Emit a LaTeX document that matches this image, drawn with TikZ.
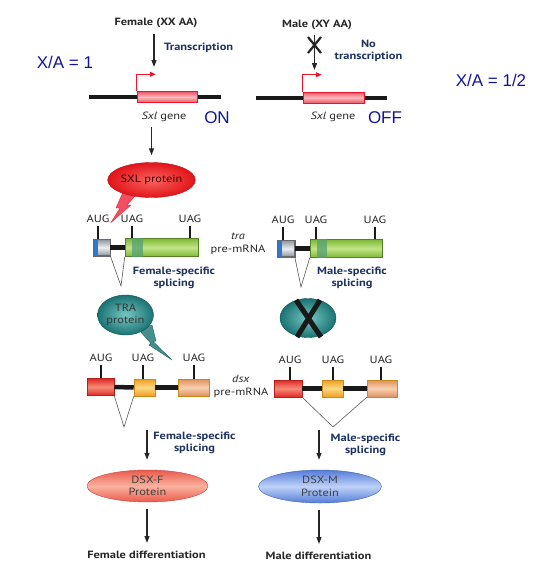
\documentclass[tikz,border=0pt]{standalone}
\usepackage{fontspec}
\setmainfont{PT Sans}[FakeStretch=1.18]
\newfontfamily\arialf{Liberation Sans}
\usetikzlibrary{shapes.geometric,arrows.meta}

\definecolor{navy}{RGB}{30,50,95}
\definecolor{xablue}{RGB}{20,20,150}
\definecolor{promred}{RGB}{235,20,45}
\definecolor{pinkA}{RGB}{238,85,100}
\definecolor{pinkB}{RGB}{250,185,190}
\definecolor{sxlred}{RGB}{225,20,25}
\definecolor{sxlhi}{RGB}{250,100,95}
\definecolor{exblue}{RGB}{50,120,200}
\definecolor{exgrey}{RGB}{145,150,158}
\definecolor{exgreyhi}{RGB}{238,238,240}
\definecolor{grn}{RGB}{125,185,55}
\definecolor{grnhi}{RGB}{195,228,135}
\definecolor{grnband}{RGB}{85,160,115}
\definecolor{teal1}{RGB}{25,115,115}
\definecolor{tealhi}{RGB}{120,200,195}
\definecolor{redA}{RGB}{225,40,35}
\definecolor{redhi}{RGB}{247,140,120}
\definecolor{orA}{RGB}{240,160,30}
\definecolor{orhi}{RGB}{252,215,130}
\definecolor{tanA}{RGB}{222,145,95}
\definecolor{tanhi}{RGB}{247,208,175}
\definecolor{salA}{RGB}{235,90,75}
\definecolor{salhi}{RGB}{250,178,160}
\definecolor{bluA}{RGB}{85,125,215}
\definecolor{bluhi}{RGB}{190,210,248}

\begin{document}
\begin{tikzpicture}[x=1pt,y=-1pt,
  lbl/.style={font=\fontsize{10.5}{13}\selectfont, inner sep=0pt, align=center, text=black!85},
  hdr/.style={font=\fontsize{10.5}{12}\selectfont\bfseries, inner sep=0pt, text=black!85},
  blbl/.style={font=\fontsize{10.5}{11.8}\selectfont\bfseries, text=navy, align=center, inner sep=0pt},
  xa/.style={font=\arialf\fontsize{17}{20}\selectfont, text=xablue, inner sep=0pt},
  arr/.style={-{Triangle[length=7pt,width=5pt]}, line width=1.2pt, black!85},
  prom/.style={-{Triangle[length=6pt,width=5pt]}, line width=1.2pt, promred},
  dna/.style={line width=4.5pt, black!90},
  tickl/.style={line width=2.6pt, black!90},
  vline/.style={line width=0.6pt, black!65},
  exon/.style={rectangle, inner sep=0pt, draw, line width=0.5pt},
  pinkbox/.style={exon, draw=promred, top color=pinkA, bottom color=pinkA, middle color=pinkB, minimum width=60pt, minimum height=11pt},
  greyex/.style={exon, draw=exgrey!70!black, top color=exgrey, bottom color=exgrey, middle color=exgreyhi, minimum width=17pt, minimum height=16pt},
  greenex/.style={exon, draw=grn!70!black, top color=grn, bottom color=grn, middle color=grnhi, minimum height=18pt},
  redex/.style={exon, draw=redA!80!black, top color=redA, bottom color=redA, middle color=redhi, minimum height=17pt},
  orex/.style={exon, draw=orA!85!black, top color=orA, bottom color=orA, middle color=orhi, minimum height=17pt},
  tanex/.style={exon, draw=orA!85!black, top color=tanA, bottom color=tanA, middle color=tanhi, minimum height=17pt},
  ell/.style={ellipse, inner sep=0pt, align=center, font=\fontsize{10.5}{12.5}\selectfont},
]
\useasboundingbox (0,0) rectangle (538,565);

% ---------------- Sxl, female ----------------
\node[hdr] (fem) at (156,23) {Female (XX AA)};
\coordinate (fTip) at (154,67);
\draw[arr, shorten <=6pt] (fem.south -| fTip) -- (fTip);
\node[blbl, anchor=west] (trn) at (164,48) {Transcription};
\node[xa] (xa1) at (65,62) {X/A = 1};
\coordinate (dF1) at (89,97);
\coordinate (dF2) at (221,97);
\draw[dna] (dF1) -- (dF2);
\node[pinkbox] (sxlF) at (167,97) {};
\draw[prom] (sxlF.north west) -- ++(0,-17) -- ++(19,0);
\node[lbl] (sxlFl) at (164,117) {\textit{Sxl} gene};
\node[xa] (on) at (217,118) {ON};

% ---------------- Sxl, male ----------------
\node[hdr] (mal) at (317,25) {Male (XY AA)};
\coordinate (mTip) at (314.5,70);
\draw[arr, shorten <=5pt] (mal.south -| mTip) -- (mTip);
\coordinate (mX) at (314.5,45);
\draw[line width=2.2pt, black!85] ([shift={(-6.5,-8)}]mX) -- ([shift={(6.5,8)}]mX)
  ([shift={(6.5,-8)}]mX) -- ([shift={(-6.5,8)}]mX);
\node[blbl] (notr) at (368.5,51) {No\\transcription};
\node[xa] (xa2) at (491,80) {X/A = 1/2};
\coordinate (dM1) at (256,98);
\coordinate (dM2) at (387,98);
\draw[dna] (dM1) -- (dM2);
\node[pinkbox, minimum width=61pt] (sxlM) at (333.5,97.5) {};
\draw[prom] (sxlM.north west) -- ++(0,-17) -- ++(19,0);
\node[lbl] (sxlMl) at (333,117) {\textit{Sxl} gene};
\node[xa] (off) at (385,118) {OFF};

% ---------------- SXL protein ----------------
\fill[promred!75!white, draw=promred, line width=0.3pt]
  (123,192) -- (136,195) -- (127,205) -- (131,205) -- (111,222.5) -- (120,208) -- (116,208) -- cycle;
\node[ell, minimum width=74pt, minimum height=35pt, draw=sxlred!80!black, line width=0.4pt,
      inner color=sxlhi, outer color=sxlred, text=black!75!red] (sxl) at (151.5,180) {SXL protein};
\draw[arr, shorten <=5pt, shorten >=7pt] (sxlFl.south -| sxl.north) -- (sxl.north);

% ---------------- tra, female ----------------
\node[greyex] (tF1) at (101.5,247.5) {};
\fill[exblue] (tF1.north west) rectangle ([xshift=5pt]tF1.south west);
\draw[exgrey!70!black, line width=0.5pt] (tF1.north west) rectangle (tF1.south east);
\node[greenex, minimum width=73pt] (tF2) at (161.5,247.5) {};
\fill[grnband, opacity=0.75] ([xshift=7pt]tF2.north west) rectangle ([xshift=18pt]tF2.south west);
\draw[dna] (tF1.east) -- (tF2.west);
\node[lbl] (tFa) at (98,219) {AUG};
\node[lbl] (tFb) at (132,219) {UAG};
\node[lbl] (tFc) at (190,219) {UAG};
\draw[tickl] ([yshift=-3pt]tFa.south) -- (tFa.south |- tF1.north);
\draw[tickl] ([yshift=-3pt]tFb.south) -- (tFb.south |- tF2.north);
\draw[tickl] ([yshift=-3pt]tFc.south) -- (tFc.south |- tF2.north);
\coordinate (vF1) at (121,286);
\draw[vline] (tF1.south east) -- (vF1) -- (tF2.south west);
\node[lbl] (traL) at (238,243.5) {\textit{tra}\\pre-mRNA};
\node[blbl] (fs1) at (174,278) {Female-specific\\splicing};

% ---------------- tra, male ----------------
\node[greyex] (tM1) at (286,248.5) {};
\fill[exblue] (tM1.north west) rectangle ([xshift=5pt]tM1.south west);
\draw[exgrey!70!black, line width=0.5pt] (tM1.north west) rectangle (tM1.south east);
\node[greenex, minimum width=72pt] (tM2) at (346,248.5) {};
\fill[grnband, opacity=0.75] ([xshift=7pt]tM2.north west) rectangle ([xshift=17pt]tM2.south west);
\draw[dna] (tM1.east) -- (tM2.west);
\node[lbl] (tMa) at (283,220) {AUG};
\node[lbl] (tMb) at (316,220) {UAG};
\node[lbl] (tMc) at (375,220) {UAG};
\draw[tickl] ([yshift=-3pt]tMa.south) -- (tMa.south |- tM1.north);
\draw[tickl] ([yshift=-3pt]tMb.south) -- (tMb.south |- tM2.north);
\draw[tickl] ([yshift=-3pt]tMc.south) -- (tMc.south |- tM2.north);
\coordinate (vM1) at (301,287);
\draw[vline] (tM1.south east) -- (vM1) -- (tM2.south west);
\node[blbl] (ms1) at (352,278) {Male-specific\\splicing};

% ---------------- TRA protein ----------------
\fill[teal1!80!white, draw=teal1!70!black, line width=0.3pt]
  (139,330) -- (152,325) -- (156,341) -- (153,341.5) -- (172,360) -- (149,345) -- (151,343.5) -- cycle;
\node[ell, minimum width=56pt, minimum height=40pt, draw=teal1!70!black, line width=0.4pt,
      inner color=tealhi, outer color=teal1, text=black!80] (tra) at (125.5,315) {TRA\\protein};
\node[ell, minimum width=56pt, minimum height=39pt, draw=teal1!70!black, line width=0.4pt,
      inner color=tealhi, outer color=teal1] (traX) at (308,318) {};
\draw[line width=5pt, black!90] ([shift={(-12,-18)}]traX.center) -- ([shift={(13,19)}]traX.center)
  ([shift={(12,-18)}]traX.center) -- ([shift={(-11,19)}]traX.center);

% ---------------- dsx, female ----------------
\node[redex, minimum width=27pt] (dF1x) at (100.5,387) {};
\node[orex, minimum width=21pt] (dF2x) at (144.5,387.5) {};
\node[tanex, minimum width=31pt] (dF3x) at (193.5,387.5) {};
\draw[dna] (dF1x.east) -- (dF2x.west);
\draw[dna] (dF2x.east) -- (dF3x.west);
\node[lbl] (dFa) at (101,358) {AUG};
\node[lbl] (dFb) at (143,358) {UAG};
\node[lbl] (dFc) at (194,358) {UAG};
\draw[tickl] ([yshift=-3pt]dFa.south) -- (dFa.south |- dF1x.north);
\draw[tickl] ([yshift=-3pt]dFb.south) -- (dFb.south |- dF2x.north);
\draw[tickl] ([yshift=-3pt]dFc.south) -- (dFc.south |- dF3x.north);
\coordinate (vF2) at (124,427);
\draw[vline] (dF1x.south east) -- (vF2) -- (dF2x.south west);
\node[lbl] (dsxL) at (241,386) {\textit{dsx}\\pre-mRNA};
\coordinate (fA) at (147,430);
\node[blbl] (fs2) at (194.5,443) {Female-specific\\splicing};

% ---------------- dsx, male ----------------
\node[redex, minimum width=28pt] (dM1x) at (288,388.5) {};
\node[orex, minimum width=21pt] (dM2x) at (332.5,388.5) {};
\node[tanex, minimum width=30pt] (dM3x) at (382,388.5) {};
\draw[dna] (dM1x.east) -- (dM2x.west);
\draw[dna] (dM2x.east) -- (dM3x.west);
\node[lbl] (dMa) at (290,360) {AUG};
\node[lbl] (dMb) at (333,360) {UAG};
\node[lbl] (dMc) at (381,360) {UAG};
\draw[tickl] ([yshift=-3pt]dMa.south) -- (dMa.south |- dM1x.north);
\draw[tickl] ([yshift=-3pt]dMb.south) -- (dMb.south |- dM2x.north);
\draw[tickl] ([yshift=-3pt]dMc.south) -- (dMc.south |- dM3x.north);
\coordinate (vM2) at (333,427);
\draw[vline] (dM1x.south east) -- (vM2) -- (dM3x.south west);
\coordinate (mA) at (319,430);
\node[blbl] (ms2) at (365.5,445) {Male-specific\\splicing};

% ---------------- DSX proteins ----------------
\node[ell, minimum width=121pt, minimum height=32pt, draw=salA!80!black, line width=0.4pt,
      top color=salA, bottom color=salA, middle color=salhi, text=black!75] (dsxF) at (147.5,486) {DSX-F\\Protein};
\node[ell, minimum width=123pt, minimum height=33pt, draw=bluA!80!black, line width=0.4pt,
      top color=bluA, bottom color=bluA, middle color=bluhi, text=black!75] (dsxM) at (320,486.5) {DSX-M\\Protein};
\draw[arr, shorten >=10pt] (fA) -- (fA |- dsxF.north);
\draw[arr, shorten >=10pt] (mA) -- (mA |- dsxM.north);
\node[hdr] (fd) at (146.5,555) {Female differentiation};
\node[hdr] (md) at (318.5,556) {Male differentiation};
\draw[arr, shorten <=7pt, shorten >=8pt] (dsxF.south -| fA) -- (fd.north -| fA);
\draw[arr, shorten <=7pt, shorten >=8pt] (dsxM.south -| mA) -- (md.north -| mA);
\end{tikzpicture}
\end{document}
